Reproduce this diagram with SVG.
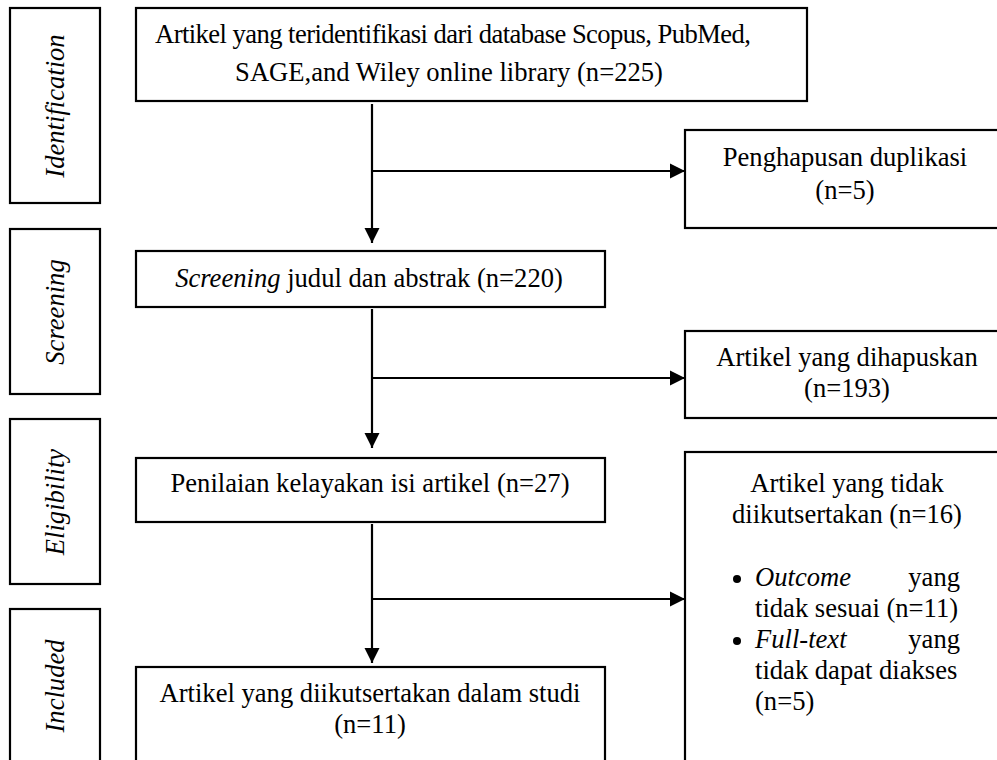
<svg xmlns="http://www.w3.org/2000/svg" width="997" height="760" viewBox="0 0 997 760">
<style>
.box{fill:#fff;stroke:#000;stroke-width:2.2}
text{font-family:'Liberation Serif','Times New Roman',Times,serif;font-size:26.6px;fill:#000}
.c{text-anchor:middle}
.i{font-style:italic}
.ln{fill:none;stroke:#000;stroke-width:2.2}
</style>
<defs>
<marker id="ah" markerUnits="userSpaceOnUse" markerWidth="16" markerHeight="16" refX="15" refY="8" orient="auto" viewBox="0 0 16 16">
<path d="M0,0.5 L15,8 L0,15.5 Z" fill="#000"/>
</marker>
</defs>
<rect width="997" height="760" fill="#fff"/>
<g id="stage-identification">
<rect class="box" x="10" y="8" width="90" height="195"/>
<text class="i c" transform="translate(64,106) rotate(-90)">Identification</text>
</g>
<g id="stage-screening">
<rect class="box" x="10" y="229" width="90" height="165"/>
<text class="i c" transform="translate(64,312) rotate(-90)">Screening</text>
</g>
<g id="stage-eligibility">
<rect class="box" x="10" y="419" width="90" height="165"/>
<text class="i c" transform="translate(64,502) rotate(-90)">Eligibility</text>
</g>
<g id="stage-included">
<rect class="box" x="10" y="609" width="90" height="170"/>
<text class="i c" transform="translate(64,686) rotate(-90)">Included</text>
</g>
<g id="connectors">
<line class="ln" x1="372" y1="104" x2="372" y2="243" marker-end="url(#ah)"/>
<line class="ln" x1="372" y1="171" x2="685" y2="171" marker-end="url(#ah)"/>
<line class="ln" x1="372" y1="309" x2="372" y2="448" marker-end="url(#ah)"/>
<line class="ln" x1="372" y1="378" x2="685" y2="378" marker-end="url(#ah)"/>
<line class="ln" x1="372" y1="524" x2="372" y2="663" marker-end="url(#ah)"/>
<line class="ln" x1="372" y1="599" x2="685" y2="599" marker-end="url(#ah)"/>
</g>
<g id="node-identified">
<rect class="box" x="136" y="8" width="671" height="93"/>
<text x="155" y="43" textLength="596">Artikel yang teridentifikasi dari database Scopus, PubMed,</text>
<text class="c" x="449" y="81">SAGE,and Wiley online library (n=225)</text>
</g>
<g id="node-duplicates">
<rect class="box" x="685" y="130" width="330" height="98"/>
<text class="c" x="845" y="166">Penghapusan duplikasi</text>
<text class="c" x="845" y="199">(n=5)</text>
</g>
<g id="node-screening">
<rect class="box" x="136" y="251" width="469" height="56"/>
<text class="c" x="369" y="287"><tspan class="i">Screening</tspan> judul dan abstrak (n=220)</text>
</g>
<g id="node-removed">
<rect class="box" x="685" y="331" width="330" height="87"/>
<text class="c" x="847" y="366">Artikel yang dihapuskan</text>
<text class="c" x="847" y="397">(n=193)</text>
</g>
<g id="node-eligibility">
<rect class="box" x="136" y="458" width="469" height="64"/>
<text class="c" x="370" y="492">Penilaian kelayakan isi artikel (n=27)</text>
</g>
<g id="node-excluded">
<rect class="box" x="685" y="452" width="330" height="330"/>
<text class="c" x="847" y="492">Artikel yang tidak</text>
<text class="c" x="847" y="523">diikutsertakan (n=16)</text>
<circle cx="737" cy="579" r="4"/>
<text class="i" x="755" y="586">Outcome</text>
<text x="960" y="586" text-anchor="end">yang</text>
<text x="755" y="617">tidak sesuai (n=11)</text>
<circle cx="737" cy="641" r="4"/>
<text class="i" x="755" y="648">Full-text</text>
<text x="960" y="648" text-anchor="end">yang</text>
<text x="755" y="679">tidak dapat diakses</text>
<text x="755" y="710">(n=5)</text>
</g>
<g id="node-included">
<rect class="box" x="136" y="667" width="469" height="110"/>
<text class="c" x="370" y="702">Artikel yang diikutsertakan dalam studi</text>
<text class="c" x="370" y="733">(n=11)</text>
</g>
</svg>
